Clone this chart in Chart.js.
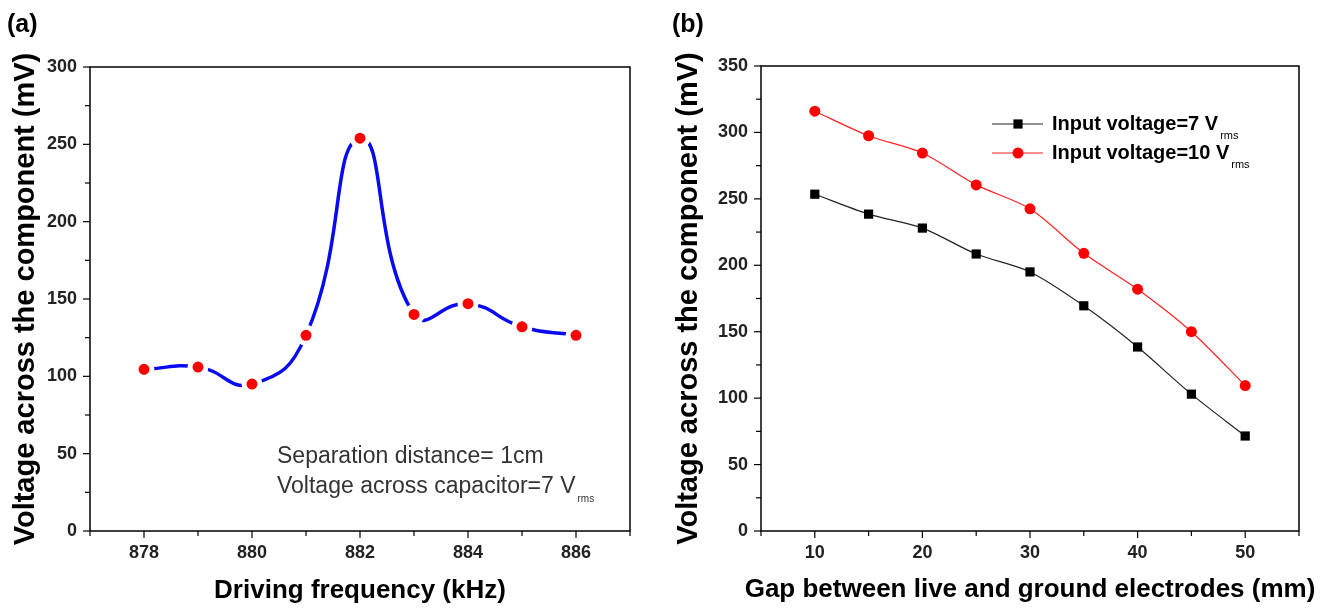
<!DOCTYPE html>
<html>
<head>
<meta charset="utf-8">
<script src="https://cdn.jsdelivr.net/npm/chart.js@4/dist/chart.umd.min.js"></script>
<style>
    body { margin: 0; background: #fff; }
    .panel { position: absolute; top: 0; height: 608px; }
</style>
</head>
<body>
<div class="panel" style="left:0;width:660px"><canvas id="chartA"></canvas></div>
<div class="panel" style="left:660px;width:665px"><canvas id="chartB"></canvas></div>
<script>
// (a) voltage vs driving frequency
const freqKHz = [878, 879, 880, 881, 882, 883, 884, 885, 886];
const voltageA = [104.5, 106, 95, 126.5, 254, 140, 147, 132, 126.5];
const freqTicks = [878, 880, 882, 884, 886];
const voltTicksA = [0, 50, 100, 150, 200, 250, 300];

// (b) voltage vs electrode gap
const gapMm = [10, 15, 20, 25, 30, 35, 40, 45, 50];
const volt7Vrms = [253.5, 238.5, 228, 208.5, 195, 169.5, 138.5, 103, 71.5];
const volt10Vrms = [316, 297.5, 284.5, 260.5, 242.5, 209, 182, 150, 109.5];
const gapTicks = [10, 20, 30, 40, 50];
const voltTicksB = [0, 50, 100, 150, 200, 250, 300, 350];

const tickFont = { family: "'Liberation Sans Narrow', 'Liberation Sans', Arial, sans-serif", size: 18, weight: "bold" };
const titleFamily = "'Liberation Sans', Arial, sans-serif";

// box frame + major/minor tick marks, plus free text (panel letters, notes, legend)
const framePlugin = {
    id: "frame",
    afterDraw(chart, args, opts) {
        const ctx = chart.ctx;
        const a = chart.chartArea;
        const xs = chart.scales.x, ys = chart.scales.y;
        ctx.save();
        ctx.strokeStyle = "#000";
        ctx.lineWidth = 1.5;
        ctx.strokeRect(a.left, a.top, a.right - a.left, a.bottom - a.top);
        ctx.lineWidth = 1.2;
        for (let v = xs.min; v <= xs.max + 1e-6; v += opts.xMinor) {
            const px = xs.getPixelForValue(v);
            const len = opts.xMajor.includes(Math.round(v * 100) / 100) ? 7 : 5;
            ctx.beginPath(); ctx.moveTo(px, a.bottom); ctx.lineTo(px, a.bottom + len); ctx.stroke();
        }
        for (let v = ys.min; v <= ys.max + 1e-6; v += opts.yMinor) {
            const py = ys.getPixelForValue(v);
            const len = opts.yMajor.includes(v) ? 7 : 5;
            ctx.beginPath(); ctx.moveTo(a.left, py); ctx.lineTo(a.left - len, py); ctx.stroke();
        }
        ctx.textBaseline = "middle";
        (opts.notes || []).forEach(n => {
            ctx.textAlign = n.align || "left";
            ctx.font = n.font;
            ctx.fillStyle = n.color || "#000";
            const x = n.align === "center" ? (a.left + a.right) / 2 : n.x;
            ctx.fillText(n.text, x, n.y);
            if (n.sub) {
                const w = ctx.measureText(n.text).width;
                ctx.font = n.subFont;
                ctx.fillText(n.sub, n.x + w + 2, n.y + n.subDy);
            }
        });
        ctx.textAlign = "left";
        (opts.legend || []).forEach(l => {
            const ds = chart.data.datasets[l.dataset];
            ctx.strokeStyle = ds.borderColor;
            ctx.lineWidth = 1.2;
            ctx.beginPath(); ctx.moveTo(l.x, l.y); ctx.lineTo(l.x + 51, l.y); ctx.stroke();
            ctx.fillStyle = ds.pointBackgroundColor;
            Chart.helpers.drawPoint(ctx, {
                pointStyle: ds.pointStyle, radius: ds.pointRadius, rotation: 0, borderWidth: 0
            }, l.x + 26, l.y);
            ctx.fillStyle = "#000";
            ctx.font = "bold 20px " + titleFamily;
            ctx.fillText(l.text, l.x + 60, l.y);
            const w = ctx.measureText(l.text).width;
            ctx.font = "11px " + titleFamily;
            ctx.fillText("rms", l.x + 60 + w + 2, l.y + 12);
        });
        ctx.restore();
    }
};

function scales(opt) {
    return {
        x: {
            type: "linear",
            min: opt.xMin, max: opt.xMax,
            grid: { display: false, drawTicks: false },
            border: { display: false },
            afterBuildTicks: s => { s.ticks = opt.xTicks.map(v => ({ value: v })); },
            afterFit: s => { s.height = 608 - opt.bottom; },
            ticks: { font: tickFont, color: "#222", padding: 11, maxRotation: 0 },
            title: {
                display: !!opt.xTitle, text: opt.xTitle, color: "#000",
                font: { family: titleFamily, size: 26, weight: "bold" },
                padding: { top: 0, bottom: 2 }
            }
        },
        y: {
            min: opt.yMin, max: opt.yMax,
            grid: { display: false, drawTicks: false },
            border: { display: false },
            afterBuildTicks: s => { s.ticks = opt.yTicks.map(v => ({ value: v })); },
            afterFit: s => { s.width = opt.left; },
            ticks: { font: tickFont, color: "#222", padding: 13 },
            title: {
                display: true, text: "Voltage across the component (mV)", color: "#000",
                font: { family: titleFamily, size: 29, weight: "bold" },
                padding: { top: opt.yTitlePad, bottom: 0 }
            }
        }
    };
}

new Chart(document.getElementById("chartA"), {
    type: "line",
    data: {
        datasets: [{
            data: freqKHz.map((f, i) => ({ x: f, y: voltageA[i] })),
            showLine: false,
            pointRadius: 8,
            pointBackgroundColor: "#ff0000",
            pointBorderColor: "#ffffff",
            pointBorderWidth: 5,
            order: 0
        }, {
            data: freqKHz.map((f, i) => ({ x: f, y: voltageA[i] })),
            borderColor: "#0a0af0",
            borderWidth: 3.5,
            tension: 0.5,
            pointRadius: 0,
            order: 1
        }]
    },
    options: {
        responsive: true,
        maintainAspectRatio: false,
        animation: false,
        layout: { padding: { top: 67, right: 30, left: 0, bottom: 0 } },
        plugins: {
            legend: { display: false },
            tooltip: { enabled: false },
            frame: {
                xMinor: 1, xMajor: freqTicks, yMinor: 25, yMajor: voltTicksA,
                notes: [
                    { text: "(a)", x: 7, y: 25, font: "bold 25px " + titleFamily },
                    { text: "Separation distance= 1cm", x: 277, y: 457, font: "23px " + titleFamily, color: "#333" },
                    { text: "Voltage across capacitor=7 V", x: 277, y: 487, font: "23px " + titleFamily, color: "#333",
                      sub: "rms", subFont: "10px " + titleFamily, subDy: 12 }
                ]
            }
        },
        scales: scales({
            xMin: 877, xMax: 887, xTicks: freqTicks, yMin: 0, yMax: 300, yTicks: voltTicksA,
            left: 90, bottom: 531, yTitlePad: 9, xTitle: "Driving frequency (kHz)"
        })
    },
    plugins: [framePlugin]
});

new Chart(document.getElementById("chartB"), {
    type: "line",
    data: {
        datasets: [{
            label: "Input voltage=7 Vrms",
            data: gapMm.map((g, i) => ({ x: g, y: volt7Vrms[i] })),
            borderColor: "#222222",
            borderWidth: 1.2,
            tension: 0.3,
            pointStyle: "rect",
            pointRadius: 6.5,
            pointBackgroundColor: "#000000",
            pointBorderWidth: 0
        }, {
            label: "Input voltage=10 Vrms",
            data: gapMm.map((g, i) => ({ x: g, y: volt10Vrms[i] })),
            borderColor: "#ff2020",
            borderWidth: 1.2,
            tension: 0.3,
            pointStyle: "circle",
            pointRadius: 5.5,
            pointBackgroundColor: "#ff0000",
            pointBorderWidth: 0
        }]
    },
    options: {
        responsive: true,
        maintainAspectRatio: false,
        animation: false,
        layout: { padding: { top: 66, right: 26, left: 0, bottom: 0 } },
        plugins: {
            legend: { display: false },
            tooltip: { enabled: false },
            frame: {
                xMinor: 5, xMajor: gapTicks, yMinor: 25, yMajor: voltTicksB,
                notes: [
                    { text: "(b)", x: 12, y: 25, font: "bold 25px " + titleFamily },
                    { text: "Gap between live and ground electrodes (mm)", align: "center", y: 590,
                      font: "bold 26px " + titleFamily }
                ],
                legend: [
                    { dataset: 0, x: 332, y: 124, text: "Input voltage=7 V" },
                    { dataset: 1, x: 332, y: 153, text: "Input voltage=10 V" }
                ]
            }
        },
        scales: scales({
            xMin: 5, xMax: 55, xTicks: gapTicks, yMin: 0, yMax: 350, yTicks: voltTicksB,
            left: 101, bottom: 531, yTitlePad: 12, xTitle: ""
        })
    },
    plugins: [framePlugin]
});
</script>
</body>
</html>
